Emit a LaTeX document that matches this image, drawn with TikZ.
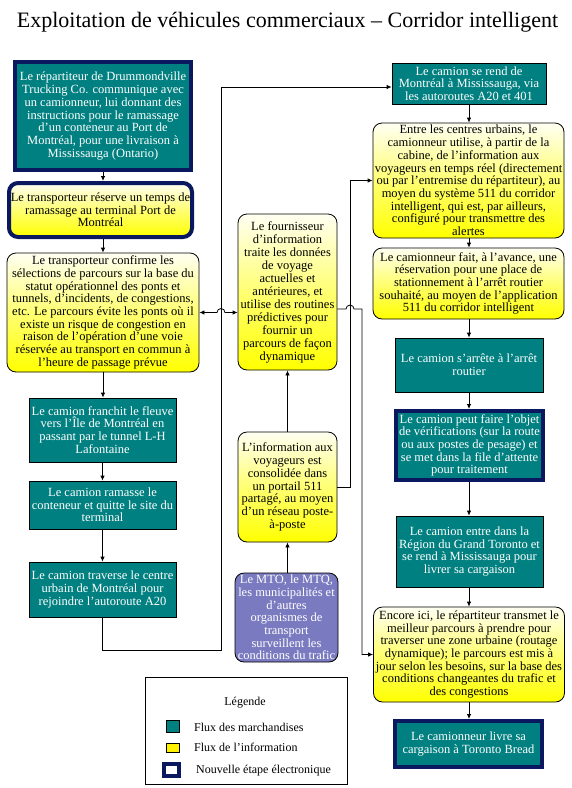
\documentclass[tikz,border=0pt]{standalone}
\usepackage{fontspec}
\setmainfont{Liberation Serif}
\usetikzlibrary{arrows.meta}
\definecolor{goodsteal}{RGB}{0,128,128}
\definecolor{stepnavy}{RGB}{10,25,95}
\definecolor{agencyblue}{RGB}{122,122,192}

\begin{document}
\begin{tikzpicture}
[x=1pt,y=-1pt,
>={Latex[length=5pt,width=4.5pt]},
myarrow/.style={->,line width=0.8pt},
box/.style={draw=black,line width=0.8pt,align=center,inner sep=1pt,
  font=\fontsize{12.5}{12.7}\selectfont},
goodsbox/.style={box,fill=goodsteal,text=white},
infobox/.style={box,rounded corners=9pt,top color=yellow!5,bottom color=yellow,middle color=yellow!55},
agencybox/.style={box,rounded corners=9pt,fill=agencyblue,text=white},
newstep/.style={draw=stepnavy,line width=4pt},
legendtext/.style={inner sep=0pt,font=\fontsize{12}{14}\selectfont}]
  \useasboundingbox (0,0) rectangle (571,788);
  \fill[white] (0,0) rectangle (571,788);
  \node (title) at (287.5,22) {\fontsize{22}{24}\selectfont Exploitation de véhicules commerciaux -- Corridor intelligent};

  % colonne de gauche
  \node[goodsbox,newstep,minimum width=176pt,minimum height=108pt] (dispatch) at (103,116)
    {Le répartiteur de Drummondville\\Trucking Co. communique avec\\un camionneur, lui donnant des\\instructions pour le ramassage\\d’un conteneur au Port de\\Montréal, pour une livraison à\\Mississauga (Ontario)};
  \node[infobox,newstep,minimum width=183pt,minimum height=54pt] (booking) at (100.5,210)
    {Le transporteur réserve un temps de\\ramassage au terminal Port de\\Montréal};
  \node[infobox,minimum width=192pt,minimum height=119pt] (routes) at (103,312.5)
    {Le transporteur confirme les\\sélections de parcours sur la base du\\statut opérationnel des ponts et\\tunnels, d’incidents, de congestions,\\etc. Le parcours évite les ponts où il\\existe un risque de congestion en\\raison de l’opération d’une voie\\réservée au transport en commun à\\l’heure de passage prévue};
  \node[goodsbox,minimum width=147pt,minimum height=64pt] (tunnel) at (102.5,430)
    {Le camion franchit le fleuve\\vers l’Île de Montréal en\\passant par le tunnel L-H\\Lafontaine};
  \node[goodsbox,minimum width=147pt,minimum height=48pt] (pickup) at (102.5,505)
    {Le camion ramasse le\\conteneur et quitte le site du\\terminal};
  \node[goodsbox,minimum width=147pt,minimum height=55pt] (downtown) at (102.5,589.5)
    {Le camion traverse le centre\\urbain de Montréal pour\\rejoindre l’autoroute A20};

  % colonne du milieu
  \node[infobox,minimum width=99pt,minimum height=156pt,font=\fontsize{12.5}{13}\selectfont] (provider) at (287.5,292)
    {Le fournisseur\\d’information\\traite les données\\de voyage\\actuelles et\\antérieures, et\\utilise des routines\\prédictives pour\\fournir un\\parcours de façon\\dynamique};
  \node[infobox,minimum width=99pt,minimum height=110pt] (portal) at (287.5,487)
    {L’information aux\\voyageurs est\\consolidée dans\\un portail 511\\partagé, au moyen\\d’un réseau poste-\\à-poste};
  \node[agencybox,minimum width=103pt,minimum height=89pt] (agencies) at (286.5,617.5)
    {Le MTO, le MTQ,\\les municipalités et\\d’autres\\organismes de\\transport\\surveillent les\\conditions du trafic};

  % colonne de droite
  \node[goodsbox,minimum width=154pt,minimum height=41pt] (highway) at (469,83.5)
    {Le camion se rend de\\Montréal à Mississauga, via\\les autoroutes A20 et 401};
  \node[infobox,minimum width=191pt,minimum height=115pt] (onboard) at (468.5,180.5)
    {Entre les centres urbains, le\\camionneur utilise, à partir de la\\cabine, de l’information aux\\voyageurs en temps réel (directement\\ou par l’entremise du répartiteur), au\\moyen du système 511 du corridor\\intelligent, qui est, par ailleurs,\\configuré pour transmettre des\\alertes};
  \node[infobox,minimum width=191pt,minimum height=71pt] (parking) at (468.5,283.5)
    {Le camionneur fait, à l'avance, une\\réservation pour une place de\\stationnement à l'arrêt routier\\souhaité, au moyen de l'application\\511 du corridor intelligent};
  \node[goodsbox,minimum width=148pt,minimum height=54pt] (truckstop) at (469,365)
    {Le camion s’arrête à l’arrêt\\routier};
  \node[goodsbox,newstep,minimum width=147pt,minimum height=69pt] (inspect) at (469.5,445.5)
    {Le camion peut faire l'objet\\de vérifications (sur la route\\ou aux postes de pesage) et\\se met dans la file d'attente\\pour traitement};
  \node[goodsbox,minimum width=147pt,minimum height=71pt] (gta) at (469.5,551.5)
    {Le camion entre dans la\\Région du Grand Toronto et\\se rend à Mississauga pour\\livrer sa cargaison};
  \node[infobox,minimum width=191pt,minimum height=95pt] (reroute) at (469,654.5)
    {Encore ici, le répartiteur transmet le\\meilleur parcours à prendre pour\\traverser une zone urbaine (routage\\dynamique); le parcours est mis à\\jour selon les besoins, sur la base des\\conditions changeantes du trafic et\\des congestions};
  \node[goodsbox,newstep,minimum width=147pt,minimum height=46pt] (deliver) at (468.5,744)
    {Le camionneur livre sa\\cargaison à Toronto Bread};

  % fleches
  \draw[myarrow] (dispatch.south) -- (dispatch.south |- booking.north);
  \draw[myarrow] (dispatch.south |- booking.south) -- (dispatch.south |- routes.north);
  \draw[myarrow] (routes.south) -- (routes.south |- tunnel.north);
  \draw[myarrow] (tunnel.south) -- (pickup.north);
  \draw[myarrow] (pickup.south) -- (downtown.north);
  \draw[myarrow] (downtown.south) |- (221,650) |- ([yshift=-3.5pt]highway.west);
  \draw[myarrow] (highway.south) -- (highway.south |- onboard.north);
  \draw[myarrow] (highway.south |- onboard.south) -- (highway.south |- parking.north);
  \draw[myarrow] (highway.south |- parking.south) -- (highway.south |- truckstop.north);
  \draw[myarrow] (truckstop.south) -- (truckstop.south |- inspect.north);
  \draw[myarrow] (truckstop.south |- inspect.south) -- (truckstop.south |- gta.north);
  \draw[myarrow] (truckstop.south |- gta.south) -- (truckstop.south |- reroute.north);
  \draw[myarrow] (truckstop.south |- reroute.south) -- (truckstop.south |- deliver.north);
  \draw[myarrow] (portal.south |- agencies.north) -- (portal.south);
  \draw[myarrow] (portal.north) -- (provider.south);
  \draw[myarrow,<->] (routes.east) -- (217,312.5) arc[start angle=180,end angle=0,radius=4pt]
    -- ([yshift=-20.5pt]provider.west);
  \draw[myarrow] (portal.east) -- ++(13,0) |- (onboard.west);
  \draw[myarrow] ([yshift=-17pt]provider.east) -- (346,309) arc[start angle=180,end angle=0,radius=4pt]
    -- (362,309) |- (reroute.west);

  % legende
  \draw[line width=0.8pt] (145,677) rectangle (347,784);
  \node[legendtext] (legtitle) at (245,703) {Légende};
  \draw[fill=goodsteal,line width=0.6pt] (166,720) rectangle (179,732);
  \node[legendtext,anchor=west] (leggoods) at (194,727) {Flux des marchandises};
  \draw[fill=yellow,line width=0.6pt] (166,743) rectangle (179,752);
  \node[legendtext,anchor=west] (leginfo) at (194,747) {Flux de l'information};
  \draw[stepnavy,line width=4pt,fill=white] (164,764) rectangle (179,776);
  \node[legendtext,anchor=west] (legstep) at (196,771) {Nouvelle étape électronique};
\end{tikzpicture}
\end{document}
